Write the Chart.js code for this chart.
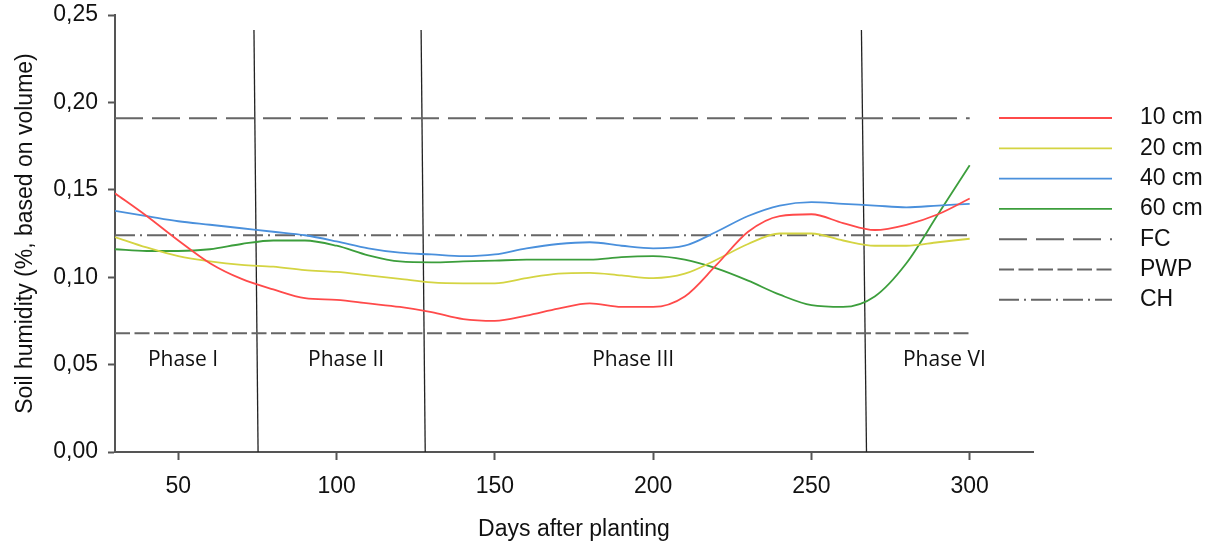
<!DOCTYPE html>
<html>
<head>
<meta charset="utf-8">
<script src="https://cdn.jsdelivr.net/npm/chart.js@4"></script>
<style>
html, body { margin: 0; padding: 0; background: #fff; }
</style>
</head>
<body>
<canvas id="soilChart" width="1221" height="550"></canvas>
<script>
// days after planting, sampled off the curves
const days = [30, 40, 50, 60, 70, 80, 90, 100, 110, 120, 130, 140, 150, 160, 170, 180, 190, 200, 210, 220, 230, 240, 250, 260, 270, 280, 290, 300];
const cm10 = [0.148, 0.135, 0.121, 0.108, 0.099, 0.093, 0.088, 0.087, 0.085, 0.083, 0.080, 0.076, 0.075, 0.078, 0.082, 0.085, 0.083, 0.083, 0.089, 0.107, 0.126, 0.135, 0.136, 0.131, 0.127, 0.130, 0.136, 0.145];
const cm20 = [0.123, 0.117, 0.112, 0.109, 0.107, 0.106, 0.104, 0.103, 0.101, 0.099, 0.097, 0.0965, 0.0965, 0.0995, 0.102, 0.1025, 0.101, 0.0995, 0.102, 0.110, 0.119, 0.125, 0.125, 0.121, 0.118, 0.118, 0.120, 0.122];
const cm40 = [0.138, 0.135, 0.132, 0.130, 0.128, 0.126, 0.124, 0.1205, 0.1165, 0.114, 0.113, 0.112, 0.113, 0.1165, 0.119, 0.120, 0.118, 0.1165, 0.118, 0.126, 0.135, 0.141, 0.143, 0.142, 0.141, 0.140, 0.141, 0.142];
const cm60 = [0.116, 0.115, 0.115, 0.116, 0.119, 0.121, 0.121, 0.118, 0.1125, 0.109, 0.1085, 0.109, 0.1095, 0.110, 0.110, 0.110, 0.1115, 0.112, 0.110, 0.105, 0.098, 0.090, 0.084, 0.083, 0.089, 0.108, 0.136, 0.164];

// reference levels
const refDays = [30, 300];
const fcLevel = 0.191;
const pwpLevel = 0.068;
const chLevel = 0.124;

// phase boundaries (lines lean slightly in the original)
const phaseTopDays = [73.9, 126.7, 265.8];
const phaseBottomDays = [75.2, 128.0, 267.4];
const phaseTopValue = 0.2414;
const phaseNames = ['Phase I', 'Phase II', 'Phase III', 'Phase VI'];
const phaseNameDays = [51.5, 103, 193.7, 292];
const phaseNameValue = 0.0526;

const xTicks = [50, 100, 150, 200, 250, 300];

const pts = (xs, ys) => xs.map((x, i) => ({ x: x, y: ys[i] }));
const axisFont = { family: 'Liberation Sans, Arial, sans-serif', size: 23 };

const series = (label, data, color) => ({
    label: label, data: pts(days, data), borderColor: color, borderWidth: 1.8,
    pointRadius: 0, cubicInterpolationMode: 'monotone', inLegend: true
});
const refLine = (label, level, dash) => ({
    label: label, data: pts(refDays, [level, level]), borderColor: '#666', borderWidth: 2,
    borderDash: dash, pointRadius: 0, inLegend: true
});

const datasets = [
    series('10 cm', cm10, '#ff4a4a'),
    series('20 cm', cm20, '#d4d442'),
    series('40 cm', cm40, '#4a90dc'),
    series('60 cm', cm60, '#3c9e3c'),
    refLine('FC', fcLevel, [28, 9]),
    refLine('PWP', pwpLevel, [15, 4.5]),
    refLine('CH', chLevel, [20, 5, 2, 5])
];
phaseTopDays.forEach((d, i) => {
    datasets.push({
        label: '', data: [{ x: d, y: phaseTopValue }, { x: phaseBottomDays[i], y: 0 }],
        borderColor: '#222', borderWidth: 1.3, pointRadius: 0
    });
});

const sideLegend = {
    id: 'sideLegend',
    afterDraw(chart) {
        const c = chart.ctx;
        const x0 = chart.chartArea.right - 34;
        c.save();
        chart.data.datasets.filter(d => d.inLegend).forEach((d, i) => {
            const y = 118 + i * 30.3;
            c.strokeStyle = d.borderColor;
            c.lineWidth = d.borderWidth;
            c.setLineDash(d.borderDash || []);
            c.beginPath();
            c.moveTo(x0, y);
            c.lineTo(x0 + 113, y);
            c.stroke();
            c.setLineDash([]);
            c.fillStyle = '#111';
            c.font = '23px "Liberation Sans", Arial, sans-serif';
            c.textBaseline = 'middle';
            c.fillText(d.label, x0 + 141, y);
        });
        c.restore();
    }
};

const phaseText = {
    id: 'phaseText',
    afterDatasetsDraw(chart) {
        const c = chart.ctx;
        const sx = chart.scales.x, sy = chart.scales.y;
        c.save();
        c.fillStyle = '#111';
        c.font = '21px "Open Sans", sans-serif';
        c.textAlign = 'center';
        c.textBaseline = 'middle';
        phaseNames.forEach((name, i) => {
            c.fillText(name, sx.getPixelForValue(phaseNameDays[i]), sy.getPixelForValue(phaseNameValue));
        });
        c.restore();
    }
};

const ctx = document.getElementById('soilChart').getContext('2d');
new Chart(ctx, {
    type: 'line',
    data: { datasets: datasets },
    plugins: [sideLegend, phaseText],
    options: {
        responsive: false,
        animation: false,
        layout: { padding: { left: 12, right: 188, top: 15, bottom: 0 } },
        plugins: { legend: { display: false }, tooltip: { enabled: false } },
        scales: {
            x: {
                type: 'linear', min: 30, max: 320,
                afterBuildTicks: s => { s.ticks = xTicks.map(v => ({ value: v })); },
                afterFit: s => { s.height = 98; s.paddingLeft = 0; s.paddingRight = 0; },
                ticks: { font: axisFont, color: '#111', padding: 13, maxRotation: 0 },
                grid: { drawOnChartArea: false, drawTicks: true, tickLength: 8, tickColor: '#555', tickWidth: 2 },
                border: { color: '#555', width: 2 },
                title: { display: true, text: 'Days after planting', font: axisFont, color: '#111', padding: { top: 0, bottom: 7 } }
            },
            y: {
                min: 0, max: 0.25,
                afterFit: s => { s.width = 103; s.paddingTop = 0; s.paddingBottom = 0; },
                ticks: { stepSize: 0.05, font: axisFont, color: '#111', padding: 10,
                    callback: v => v.toFixed(2).replace('.', ',') },
                grid: { drawOnChartArea: false, drawTicks: true, tickLength: 7, tickColor: '#555', tickWidth: 2 },
                border: { color: '#555', width: 2 },
                title: { display: true, text: 'Soil humidity (%, based on volume)', font: axisFont, color: '#111', padding: 0 }
            }
        }
    }
});
</script>
</body>
</html>
